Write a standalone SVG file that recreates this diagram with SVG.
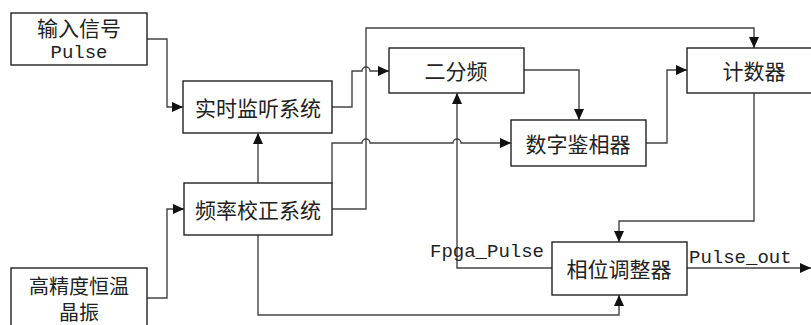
<svg xmlns="http://www.w3.org/2000/svg" width="811" height="325" viewBox="0 0 811 325">
<style>
.box{fill:#fff;stroke:#222;stroke-width:1.4}
.ln{fill:none;stroke:#444;stroke-width:1.4}
.cn{font-family:"Noto Sans CJK SC","Liberation Serif",serif;font-size:21px;fill:#222;text-anchor:middle;dominant-baseline:central}
.mono{font-family:"Liberation Mono","Noto Sans CJK SC",monospace;font-size:19px;fill:#222}
</style>
<defs>
<marker id="arr" markerUnits="userSpaceOnUse" markerWidth="12" markerHeight="10" refX="11" refY="5" orient="auto">
<path d="M0,0 L11,5 L0,10 z" fill="#111"/>
</marker>
</defs>
<rect width="811" height="325" fill="#fff"/>
<g id="connectors">
<path class="ln" d="M147,39 H167 V107 H183" marker-end="url(#arr)"/>
<path class="ln" d="M147,298 H167 V209 H184" marker-end="url(#arr)"/>
<path class="ln" d="M258,183 V133" marker-end="url(#arr)"/>
<path class="ln" d="M332,107 H352 V71 H362 A4,4 0 0 1 370,71 H389" marker-end="url(#arr)"/>
<path class="ln" d="M332,209 H366 V28 H754 V48" marker-end="url(#arr)"/>
<path class="ln" d="M332,183 V143 H362 A4,4 0 0 1 370,143 H453 A4,4 0 0 1 461,143 H511" marker-end="url(#arr)"/>
<path class="ln" d="M524,70 H579 V120" marker-end="url(#arr)"/>
<path class="ln" d="M646,143 H667 V70 H687" marker-end="url(#arr)"/>
<path class="ln" d="M754,93 V221 H619 V242" marker-end="url(#arr)"/>
<path class="ln" d="M552,268 H457 V93" marker-end="url(#arr)"/>
<path class="ln" d="M258,235 V315 H619 V295" marker-end="url(#arr)"/>
<path class="ln" d="M687,268 H811" marker-end="url(#arr)"/>
</g>
<g id="input">
<rect class="box" x="11" y="13" width="136" height="52"/>
<text class="cn" x="79" y="27">输入信号</text>
<text class="mono" x="79" y="58" text-anchor="middle">Pulse</text>
</g>
<g id="osc">
<rect class="box" x="11" y="268" width="136" height="70"/>
<text class="cn" x="79" y="285" style="font-size:20px">高精度恒温</text>
<text class="cn" x="79" y="311" style="font-size:20px">晶振</text>
</g>
<g id="monitor">
<rect class="box" x="183" y="81" width="149" height="52"/>
<text class="cn" x="258" y="107">实时监听系统</text>
</g>
<g id="freqcal">
<rect class="box" x="184" y="183" width="148" height="52"/>
<text class="cn" x="258" y="209">频率校正系统</text>
</g>
<g id="div2">
<rect class="box" x="389" y="48" width="135" height="45"/>
<text class="cn" x="456" y="70">二分频</text>
</g>
<g id="phasedet">
<rect class="box" x="511" y="120" width="135" height="46"/>
<text class="cn" x="578" y="143">数字鉴相器</text>
</g>
<g id="counter">
<rect class="box" x="687" y="48" width="135" height="45"/>
<text class="cn" x="754" y="70">计数器</text>
</g>
<g id="phaseadj">
<rect class="box" x="552" y="242" width="135" height="53"/>
<text class="cn" x="619" y="268">相位调整器</text>
</g>
<g id="labels">
<text class="mono" x="430" y="257">Fpga_Pulse</text>
<text class="mono" x="689" y="263">Pulse_out</text>
</g>
</svg>
